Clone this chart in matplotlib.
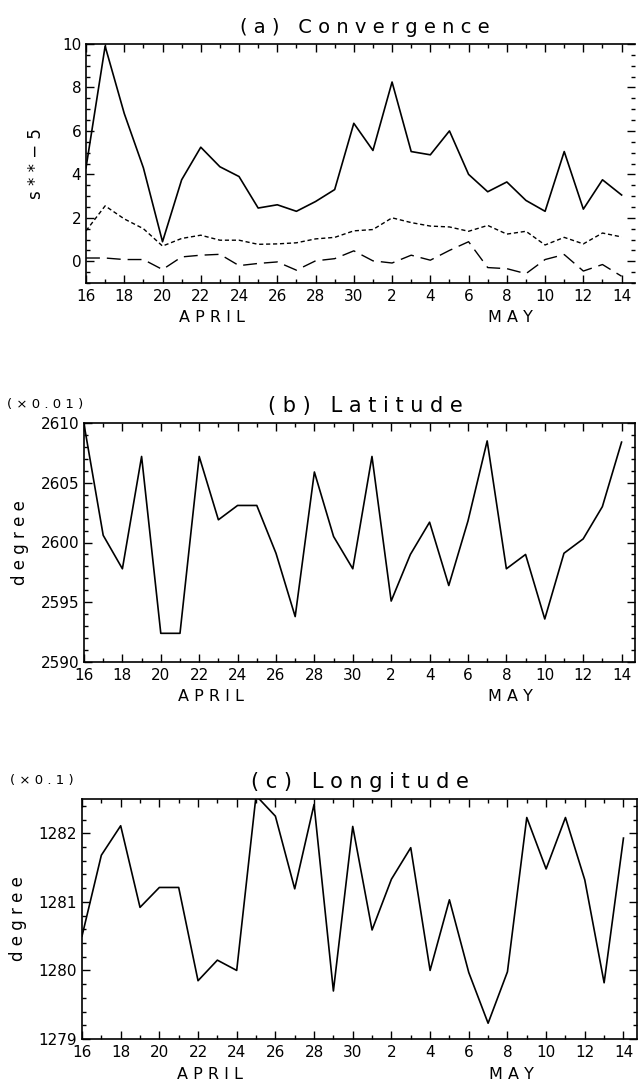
import numpy as np
import matplotlib.pyplot as plt
from matplotlib.ticker import MultipleLocator

# days: 16 April .. 14 May
day_labels = list(range(16, 31)) + list(range(1, 15))

# (a) convergence, three curves
conv_solid = [4.3, 9.9, 6.8, 4.3, 0.9, 3.75, 5.25, 4.35, 3.9, 2.45, 2.6, 2.3, 2.75,
              3.3, 6.35, 5.1, 8.25, 5.05, 4.9, 6.0, 4.0, 3.2, 3.65, 2.8, 2.3, 5.05,
              2.4, 3.75, 3.05]
conv_short = [1.4, 2.55, 1.95, 1.5, 0.7, 1.05, 1.2, 0.97, 0.97, 0.78, 0.8, 0.85, 1.03,
              1.1, 1.4, 1.46, 2.0, 1.78, 1.62, 1.58, 1.38, 1.65, 1.25, 1.38, 0.75, 1.1,
              0.8, 1.3, 1.12]
conv_long = [0.15, 0.15, 0.08, 0.08, -0.38, 0.2, 0.28, 0.32, -0.2, -0.1, -0.03, -0.41,
             0.02, 0.12, 0.48, 0.02, -0.08, 0.28, 0.05, 0.5, 0.9, -0.29, -0.34, -0.57,
             0.08, 0.31, -0.45, -0.15, -0.69]

# (b) latitude (x0.01 degree)
lat = [2609.9, 2600.6, 2597.8, 2607.2, 2592.4, 2592.4, 2607.2, 2601.9, 2603.1, 2603.1,
       2599.1, 2593.8, 2605.9, 2600.5, 2597.8, 2607.2, 2595.1, 2599.0, 2601.7, 2596.4,
       2601.8, 2608.5, 2597.8, 2599.0, 2593.6, 2599.1, 2600.3, 2603.0, 2608.4]

# (c) longitude (x0.1 degree)
lon = [1280.5, 1281.68, 1282.11, 1280.92, 1281.21, 1281.21, 1279.85, 1280.15, 1280.0,
       1282.55, 1282.25, 1281.19, 1282.42, 1279.7, 1282.1, 1280.59, 1281.33, 1281.79,
       1280.0, 1281.03, 1279.97, 1279.23, 1279.98, 1282.23, 1281.48, 1282.23, 1281.32,
       1279.82, 1281.93]

W, H = 638, 1083
fig = plt.figure(figsize=(W / 100, H / 100), dpi=100)
plt.rcParams['font.family'] = 'DejaVu Sans'


def make_ax(l, r, t, b):
    return fig.add_axes([l / W, 1 - b / H, (r - l) / W, (b - t) / H])


def style_x(ax):
    ax.set_xlim(0, 28.7)
    ax.set_xticks(range(0, len(day_labels), 2))
    ax.set_xticklabels([str(d) for d in day_labels[::2]])
    ax.xaxis.set_minor_locator(MultipleLocator(1))
    ax.tick_params(which='both', direction='in', top=True, right=True, labelsize=11)
    ax.tick_params(which='major', length=6, width=1)
    ax.tick_params(which='minor', length=3, width=1)
    ax.tick_params(axis='x', pad=4)
    for s in ax.spines.values():
        s.set_linewidth(1.2)
    ax.text(6.6, -0.115, 'A P R I L', transform=ax.get_xaxis_transform(),
            ha='center', va='top', fontsize=11.5)
    ax.text(22.2, -0.115, 'M A Y', transform=ax.get_xaxis_transform(),
            ha='center', va='top', fontsize=11.5)


x = np.arange(len(day_labels))

# ---- (a)
ax1 = make_ax(86, 635, 44, 283)
ax1.plot(x, conv_solid, 'k-', lw=1.2)
ax1.plot(x, conv_short, 'k', lw=1.0, dashes=(3, 2))
ax1.plot(x, conv_long, 'k', lw=1.0, dashes=(10, 5))
ax1.set_ylim(-1, 10)
ax1.set_yticks([0, 2, 4, 6, 8, 10])
ax1.yaxis.set_minor_locator(MultipleLocator(0.5))
style_x(ax1)
ax1.spines['right'].set_visible(False)
ax1.set_ylabel('s * * − 5', fontsize=12, labelpad=12)
ax1.set_title('( a )   C o n v e r g e n c e', fontsize=14, pad=8, x=0.508)

# ---- (b)
ax2 = make_ax(84, 635, 423, 662)
ax2.plot(x, lat, 'k-', lw=1.2)
ax2.set_ylim(2590, 2610)
ax2.set_yticks([2590, 2595, 2600, 2605, 2610])
ax2.yaxis.set_minor_locator(MultipleLocator(1))
style_x(ax2)
ax2.set_ylabel('d e g r e e', fontsize=12, labelpad=8)
ax2.set_title('( b )   L a t i t u d e', fontsize=15, pad=8, x=0.51)
ax2.text(-0.14, 1.05, '( × 0 . 0 1 )', transform=ax2.transAxes, fontsize=9.5,
         ha='left', va='bottom')

# ---- (c)
ax3 = make_ax(82, 637, 799, 1039)
ax3.plot(x, lon, 'k-', lw=1.2)
ax3.set_ylim(1279, 1282.5)
ax3.set_yticks([1279, 1280, 1281, 1282])
ax3.yaxis.set_minor_locator(MultipleLocator(0.2))
style_x(ax3)
ax3.set_ylabel('d e g r e e', fontsize=12, labelpad=8)
ax3.set_title('( c )   L o n g i t u d e', fontsize=15, pad=8, x=0.50)
ax3.text(-0.13, 1.05, '( × 0 . 1 )', transform=ax3.transAxes, fontsize=9.5,
         ha='left', va='bottom')

fig.savefig('out.png', dpi=100)
